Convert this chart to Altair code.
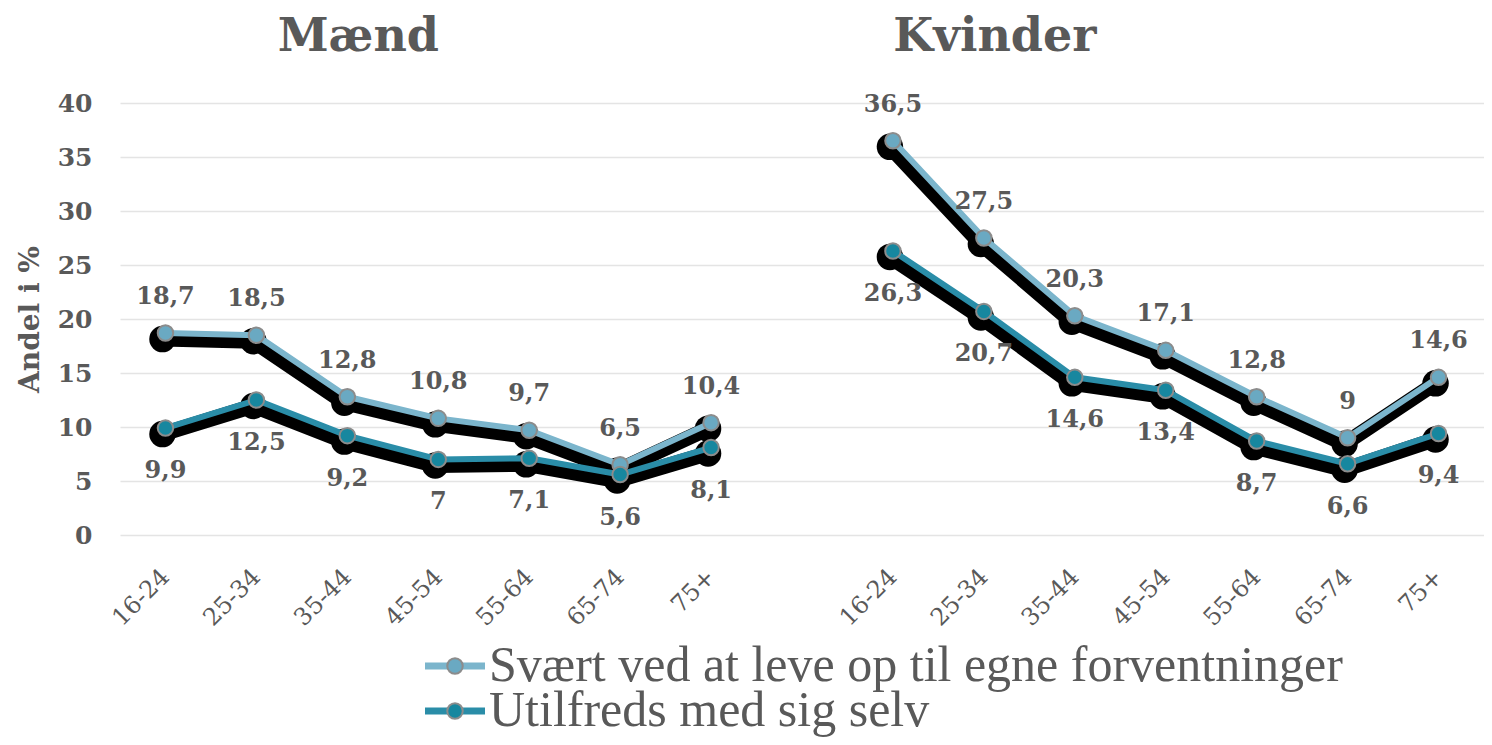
import altair as alt
import pandas as pd

ages = ["16-24", "25-34", "35-44", "45-54", "55-64", "65-74", "75+"]
men_svaert = [18.7, 18.5, 12.8, 10.8, 9.7, 6.5, 10.4]
men_utilfreds = [9.9, 12.5, 9.2, 7, 7.1, 5.6, 8.1]
women_svaert = [36.5, 27.5, 20.3, 17.1, 12.8, 9, 14.6]
women_utilfreds = [26.3, 20.7, 14.6, 13.4, 8.7, 6.6, 9.4]
series_names = ["Svært ved at leve op til egne forventninger", "Utilfreds med sig selv"]
series_colors = ["#7bb5cc", "#2a8da8"]
point_colors = ["#6aa9c2", "#17879f"]
panel_titles = ["Mænd", "Kvinder"]
y_ticks = [0, 5, 10, 15, 20, 25, 30, 35, 40]

rows = []
for prefix, gender, s_vals, u_vals in [("M", panel_titles[0], men_svaert, men_utilfreds),
                                       ("K", panel_titles[1], women_svaert, women_utilfreds)]:
    for a, s, u in zip(ages, s_vals, u_vals):
        for name, v in zip(series_names, [s, u]):
            rows.append(dict(cat=prefix + a, gender=gender, series=name, key=gender + name,
                             value=v, label=f"{v:g}".replace(".", ",")))
df = pd.DataFrame(rows)

domain = ["M" + a for a in ages] + ["gap"] + ["K" + a for a in ages]
titles_df = pd.DataFrame({"cat": ["M35-44", "K25-34"], "title": panel_titles})
legend_df = pd.DataFrame({"series": series_names})

GRAY = "#595959"
xscale = alt.Scale(domain=domain, type="point", padding=0.5)
line_scale = alt.Scale(domain=series_names, range=series_colors)
fill_scale = alt.Scale(domain=series_names, range=point_colors)

x_enc = alt.X("cat:N", scale=xscale, title=None,
              axis=alt.Axis(labelExpr="datum.value == 'gap' ? '' : slice(datum.value, 1)",
                            labelAngle=-45, labelAlign="right", labelBaseline="middle",
                            labelPadding=38, labelFont="DejaVu Serif", labelFontSize=24,
                            labelColor=GRAY, domain=False, ticks=False, grid=False))
y_enc = alt.Y("value:Q", scale=alt.Scale(domain=[0, 40], nice=False),
              axis=alt.Axis(values=y_ticks, title="Andel i %", grid=True, gridColor="#e4e4e4",
                            gridWidth=1.5, domain=False, ticks=False,
                            labelFont="DejaVu Serif", labelFontWeight="bold", labelFontSize=25,
                            labelColor=GRAY, labelPadding=28,
                            titleFont="DejaVu Serif", titleFontWeight="bold", titleFontSize=28,
                            titleColor=GRAY, titleX=-90, titleY=216, titleAngle=-90,
                            titleAlign="center", titleBaseline="middle"))

base = alt.Chart(df).encode(x=x_enc, y=y_enc)

shadow_line = base.mark_line(color="black", strokeWidth=15, xOffset=-3, yOffset=6,
                             strokeJoin="round", strokeCap="round").encode(detail="key:N")
shadow_pts = base.mark_circle(color="black", size=700, opacity=1, xOffset=-3, yOffset=6)
lines = base.mark_line(strokeWidth=6, strokeJoin="round").encode(
    color=alt.Color("series:N", scale=line_scale, legend=None), detail="key:N")
pts = base.mark_circle(size=240, opacity=1, stroke="#8c8c8c", strokeWidth=2).encode(
    fill=alt.Fill("series:N", scale=fill_scale, legend=None))

txt_style = dict(font="DejaVu Serif", fontWeight="bold", fontSize=24, color=GRAY, baseline="middle")
labels_above = base.transform_filter(alt.datum.series == series_names[0]).mark_text(
    dy=-36, **txt_style).encode(text="label:N")
labels_below = base.transform_filter(alt.datum.series == series_names[1]).mark_text(
    dy=43, **txt_style).encode(text="label:N")

titles = alt.Chart(titles_df).mark_text(font="DejaVu Serif", fontWeight="bold", fontSize=46,
                                        color=GRAY, baseline="middle", dx=11).encode(
    x=alt.X("cat:N", scale=xscale), y=alt.value(-66), text="title:N")

main = alt.layer(shadow_line, shadow_pts, lines, pts, labels_above, labels_below, titles)

# legend (below the plot area), built from the series names
leg_y = alt.Y("series:N", scale=alt.Scale(domain=series_names, type="point", padding=0,
                                          range=[563, 608]), axis=None)
leg_base = alt.Chart(legend_df).encode(y=leg_y)
leg_line = leg_base.mark_rule(strokeWidth=7).encode(
    x=alt.value(305), x2=alt.value(365),
    color=alt.Color("series:N", scale=line_scale, legend=None))
leg_pt = leg_base.mark_circle(size=240, opacity=1, stroke="#8c8c8c", strokeWidth=2).encode(
    x=alt.value(335), fill=alt.Fill("series:N", scale=fill_scale, legend=None))
leg_txt = leg_base.mark_text(align="left", baseline="middle", font="Liberation Serif",
                             fontSize=50, color=GRAY).encode(x=alt.value(369), text="series:N")
legend = alt.layer(leg_line, leg_pt, leg_txt)

chart = alt.layer(main, legend).resolve_scale(y="independent").properties(
    width=1364, height=432,
    autosize=alt.AutoSizeParams(type="none"),
    padding={"left": 112, "top": 95, "right": 0, "bottom": 202},
).configure_view(stroke=None)

chart.save("out.html", embed_options={"renderer": "svg", "actions": False})
